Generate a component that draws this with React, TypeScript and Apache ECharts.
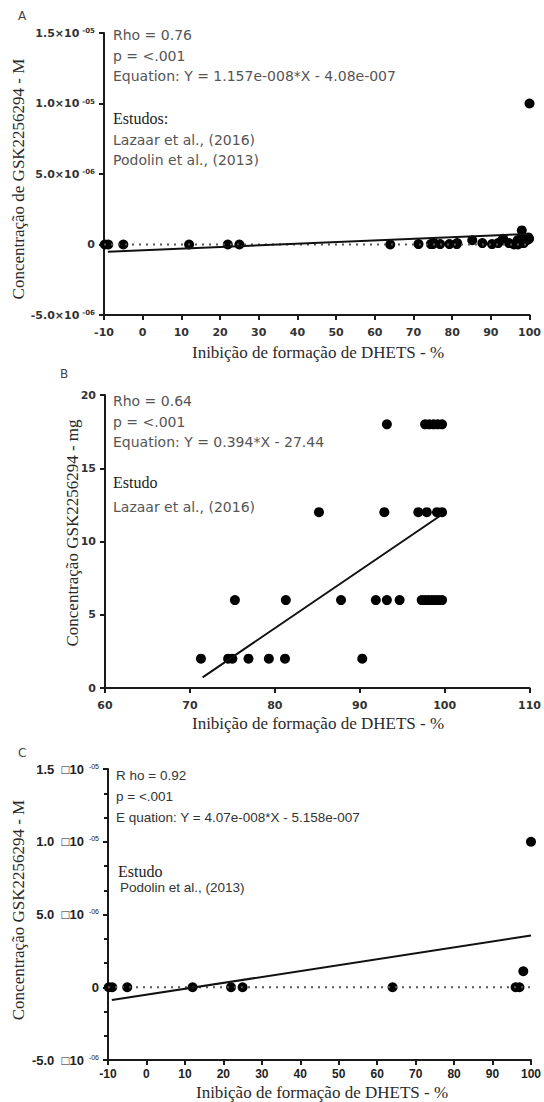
import React, { useEffect, useRef } from "react";
import * as echarts from "echarts";

// ---------- Panel A (M) ----------
const podolinX = [-9.8, -8.9, -5, 12, 22, 25, 64, 96, 97, 98, 100];
const podolinYA = [0, 0, 0, 0, 0, 0, 0, 0, 0, 1.0e-6, 1.0e-5];
const lazaarXA = [71.3, 74.5, 75.0, 75.3, 76.9, 79.3, 81.2, 81.3, 85.2, 87.8, 90.3, 91.9, 92.9, 93.2, 94.7, 96.9, 97.3, 97.7, 98.1, 98.5, 98.9, 99.3, 99.7, 99.9];
const lazaarYA = [0.03e-6, 0.03e-6, 0.03e-6, 0.1e-6, 0.03e-6, 0.03e-6, 0.03e-6, 0.1e-6, 0.3e-6, 0.1e-6, 0.03e-6, 0.1e-6, 0.3e-6, 0.4e-6, 0.1e-6, 0.3e-6, 0.1e-6, 0.4e-6, 0.3e-6, 0.1e-6, 0.4e-6, 0.3e-6, 0.5e-6, 0.4e-6];
const regLineA = [[-9, -5.1e-7], [100, 7.49e-7]];
const zeroLine = [[-10, 0], [100, 0]];

// ---------- Panel B (mg) ----------
const bX2 = [71.3, 74.5, 75.0, 76.9, 79.3, 81.2, 90.3];
const bX6 = [75.3, 81.3, 87.8, 91.9, 93.2, 94.7, 97.3, 97.7, 98.1, 98.5, 98.9, 99.3, 99.7];
const bX12 = [85.2, 92.9, 96.9, 97.9, 99.1, 99.7];
const bX18 = [93.2, 97.7, 98.2, 98.7, 99.2, 99.7];
const regLineB = [[71.5, 0.73], [99.7, 11.84]];

// ---------- Panel C (M) ----------
const podolinYC = [0, 0, 0, 0, 0, 0, 0, 0, 0, 1.1e-6, 1.0e-5];
const regLineC = [[-9, -8.82e-7], [100, 3.554e-6]];

const textsA = ["Rho = 0.76", "p = <.001", "Equation: Y = 1.157e-008*X - 4.08e-007"];
const studiesA = ["Lazaar et al., (2016)", "Podolin et al., (2013)"];
const textsB = ["Rho = 0.64", "p = <.001", "Equation: Y = 0.394*X - 27.44"];
const studiesB = ["Lazaar et al., (2016)"];
const textsC = ["R ho = 0.92", "p = <.001", "E quation: Y = 4.07e-008*X - 5.158e-007"];
const studiesC = ["Podolin et al., (2013)"];

const xTitle = "Inibição de formação de DHETS - %";
const yTitleA = "Concentração de GSK2256294 - M";
const yTitleB = "Concentração GSK2256294 - mg";
const yTitleC = "Concentração GSK2256294 - M";

const sciLabel = (sep: string) => (v: number) => {
  if (Math.abs(v) < 1e-12) return "0";
  const e = Math.floor(Math.log10(Math.abs(v)) + 1e-9);
  const m = v / Math.pow(10, e);
  const ee = String(Math.abs(e)).padStart(2, "0");
  return `${m.toFixed(1)}${sep}10{s|-${ee}}`;
};

export default function App() {
  const ref = useRef<HTMLDivElement>(null);
  useEffect(() => {
    document.body.style.margin = "0";
    const chart = echarts.init(ref.current!, null, { renderer: "svg" });
    const axisLine = { show: true, onZero: false, lineStyle: { color: "#1a1a1a", width: 2 } };
    const axisTick = { show: true, length: 5, lineStyle: { color: "#1a1a1a", width: 2 } };
    const labA = { color: "#333", fontFamily: "DejaVu Sans", fontWeight: "bold", fontSize: 11 };
    const labC = { color: "#222", fontFamily: "Liberation Sans", fontWeight: "bold", fontSize: 12 };
    const supS = { fontSize: 7, verticalAlign: "top", lineHeight: 8, padding: [0, 0, 0, 3] };

    const sansSpaced = "14px 'DejaVu Sans'";
    const serif = "16px 'Liberation Serif'";
    const graphic: any[] = [];
    const addText = (t: string, x: number, y: number, font: string, fill: string) =>
      graphic.push({ type: "text", x, y, style: { text: t, font, fill, textVerticalAlign: "middle" } });
    // panel letters
    addText("A", 18, 16, "12px 'DejaVu Sans'", "#444");
    addText("B", 60, 374, "12px 'DejaVu Sans'", "#444");
    addText("C", 18, 753, "12px 'DejaVu Sans'", "#444");
    // panel A annotations
    textsA.forEach((t, i) => addText(t, 113, 35 + i * 20.5, sansSpaced, "#555"));
    addText("Estudos:", 113, 118, serif, "#222");
    studiesA.forEach((t, i) => addText(t, 113, 140 + i * 20, sansSpaced, "#555"));
    // panel B
    textsB.forEach((t, i) => addText(t, 113, 401 + i * 20.5, sansSpaced, "#555"));
    addText("Estudo", 113, 482, serif, "#222");
    studiesB.forEach((t, i) => addText(t, 113, 507 + i * 20, sansSpaced, "#555"));
    // panel C
    textsC.forEach((t, i) => addText(t, 116, 775 + i * 21, "13.5px 'Liberation Sans'", "#333"));
    addText("Estudo", 118, 871, serif, "#222");
    studiesC.forEach((t, i) => addText(t, 120, 887 + i * 20, "13.5px 'Liberation Sans'", "#333"));
    // axis titles
    const addTitle = (t: string, x: number, y: number, rot: boolean) =>
      graphic.push({
        type: "text", x, y, rotation: rot ? Math.PI / 2 : 0,
        style: { text: t, font: "17px 'Liberation Serif'", fill: "#2a2a2a", textAlign: "center", textVerticalAlign: "middle" },
      });
    addTitle(yTitleA, 18, 179, true);
    addTitle(xTitle, 318, 352, false);
    addTitle(yTitleB, 72, 533, true);
    addTitle(xTitle, 318, 723, false);
    addTitle(yTitleC, 18, 910, true);
    addTitle(xTitle, 322, 1092, false);

    const mkX = (idx: number, min: number, max: number, lab: any, margin: number) => ({
      type: "value", gridIndex: idx, min, max, interval: 10,
      axisLine, axisTick, splitLine: { show: false },
      axisLabel: { ...lab, margin },
    });
    const dot = { color: "#000", opacity: 1 };

    const option: any = {
      animation: false,
      backgroundColor: "#fff",
      grid: [
        { left: 104, width: 428, top: 33, height: 282 },
        { left: 105, width: 428, top: 395, height: 293 },
        { left: 108, width: 428, top: 769, height: 291 },
      ],
      xAxis: [mkX(0, -10, 100, labA, 12), mkX(1, 60, 110, labA, 12), mkX(2, -10, 100, labC, 8)],
      yAxis: [
        {
          type: "value", gridIndex: 0, min: -5e-6, max: 1.5e-5, interval: 5e-6,
          axisLine, axisTick, splitLine: { show: false },
          axisLabel: { ...labA, margin: 9, formatter: sciLabel("×"), rich: { s: { ...supS } } },
        },
        {
          type: "value", gridIndex: 1, min: 0, max: 20, interval: 5,
          axisLine, axisTick, splitLine: { show: false },
          axisLabel: { ...labA, margin: 9 },
        },
        {
          type: "value", gridIndex: 2, min: -5e-6, max: 1.5e-5, interval: 5e-6,
          axisLine, axisTick, splitLine: { show: false },
          minorTick: { show: true, splitNumber: 3, length: 4, lineStyle: { color: "#1a1a1a", width: 2 } },
          axisLabel: { ...labC, fontSize: 13, margin: 9, formatter: sciLabel("  \u25A1"), rich: { s: { ...supS, fontWeight: "normal", padding: [0, 0, 0, 5] } } },
        },
      ],
      series: [
        // Panel A
        { type: "line", xAxisIndex: 0, yAxisIndex: 0, data: zeroLine, symbol: "none", lineStyle: { color: "#555", width: 2, type: [2, 5] }, silent: true },
        { type: "line", xAxisIndex: 0, yAxisIndex: 0, data: regLineA, symbol: "none", lineStyle: { color: "#111", width: 2 } },
        { type: "scatter", xAxisIndex: 0, yAxisIndex: 0, data: lazaarXA.map((x, i) => [x, lazaarYA[i]]), symbolSize: 10, itemStyle: dot },
        { type: "scatter", xAxisIndex: 0, yAxisIndex: 0, data: podolinX.map((x, i) => [x, podolinYA[i]]), symbolSize: 10, itemStyle: dot },
        // Panel B
        { type: "line", xAxisIndex: 1, yAxisIndex: 1, data: regLineB, symbol: "none", lineStyle: { color: "#111", width: 2 } },
        { type: "scatter", xAxisIndex: 1, yAxisIndex: 1, data: bX2.map((x) => [x, 2]), symbolSize: 10, itemStyle: dot },
        { type: "scatter", xAxisIndex: 1, yAxisIndex: 1, data: bX6.map((x) => [x, 6]), symbolSize: 10, itemStyle: dot },
        { type: "scatter", xAxisIndex: 1, yAxisIndex: 1, data: bX12.map((x) => [x, 12]), symbolSize: 10, itemStyle: dot },
        { type: "scatter", xAxisIndex: 1, yAxisIndex: 1, data: bX18.map((x) => [x, 18]), symbolSize: 10, itemStyle: dot },
        // Panel C
        { type: "line", xAxisIndex: 2, yAxisIndex: 2, data: zeroLine, symbol: "none", lineStyle: { color: "#555", width: 2, type: [2, 5] }, silent: true },
        { type: "line", xAxisIndex: 2, yAxisIndex: 2, data: regLineC, symbol: "none", lineStyle: { color: "#111", width: 2 } },
        { type: "scatter", xAxisIndex: 2, yAxisIndex: 2, data: podolinX.map((x, i) => [x, podolinYC[i]]), symbolSize: 10, itemStyle: dot },
      ],
      graphic,
    };
    chart.setOption(option);
    return () => chart.dispose();
  }, []);
  return <div ref={ref} style={{ width: 544, height: 1102 }} />;
}
